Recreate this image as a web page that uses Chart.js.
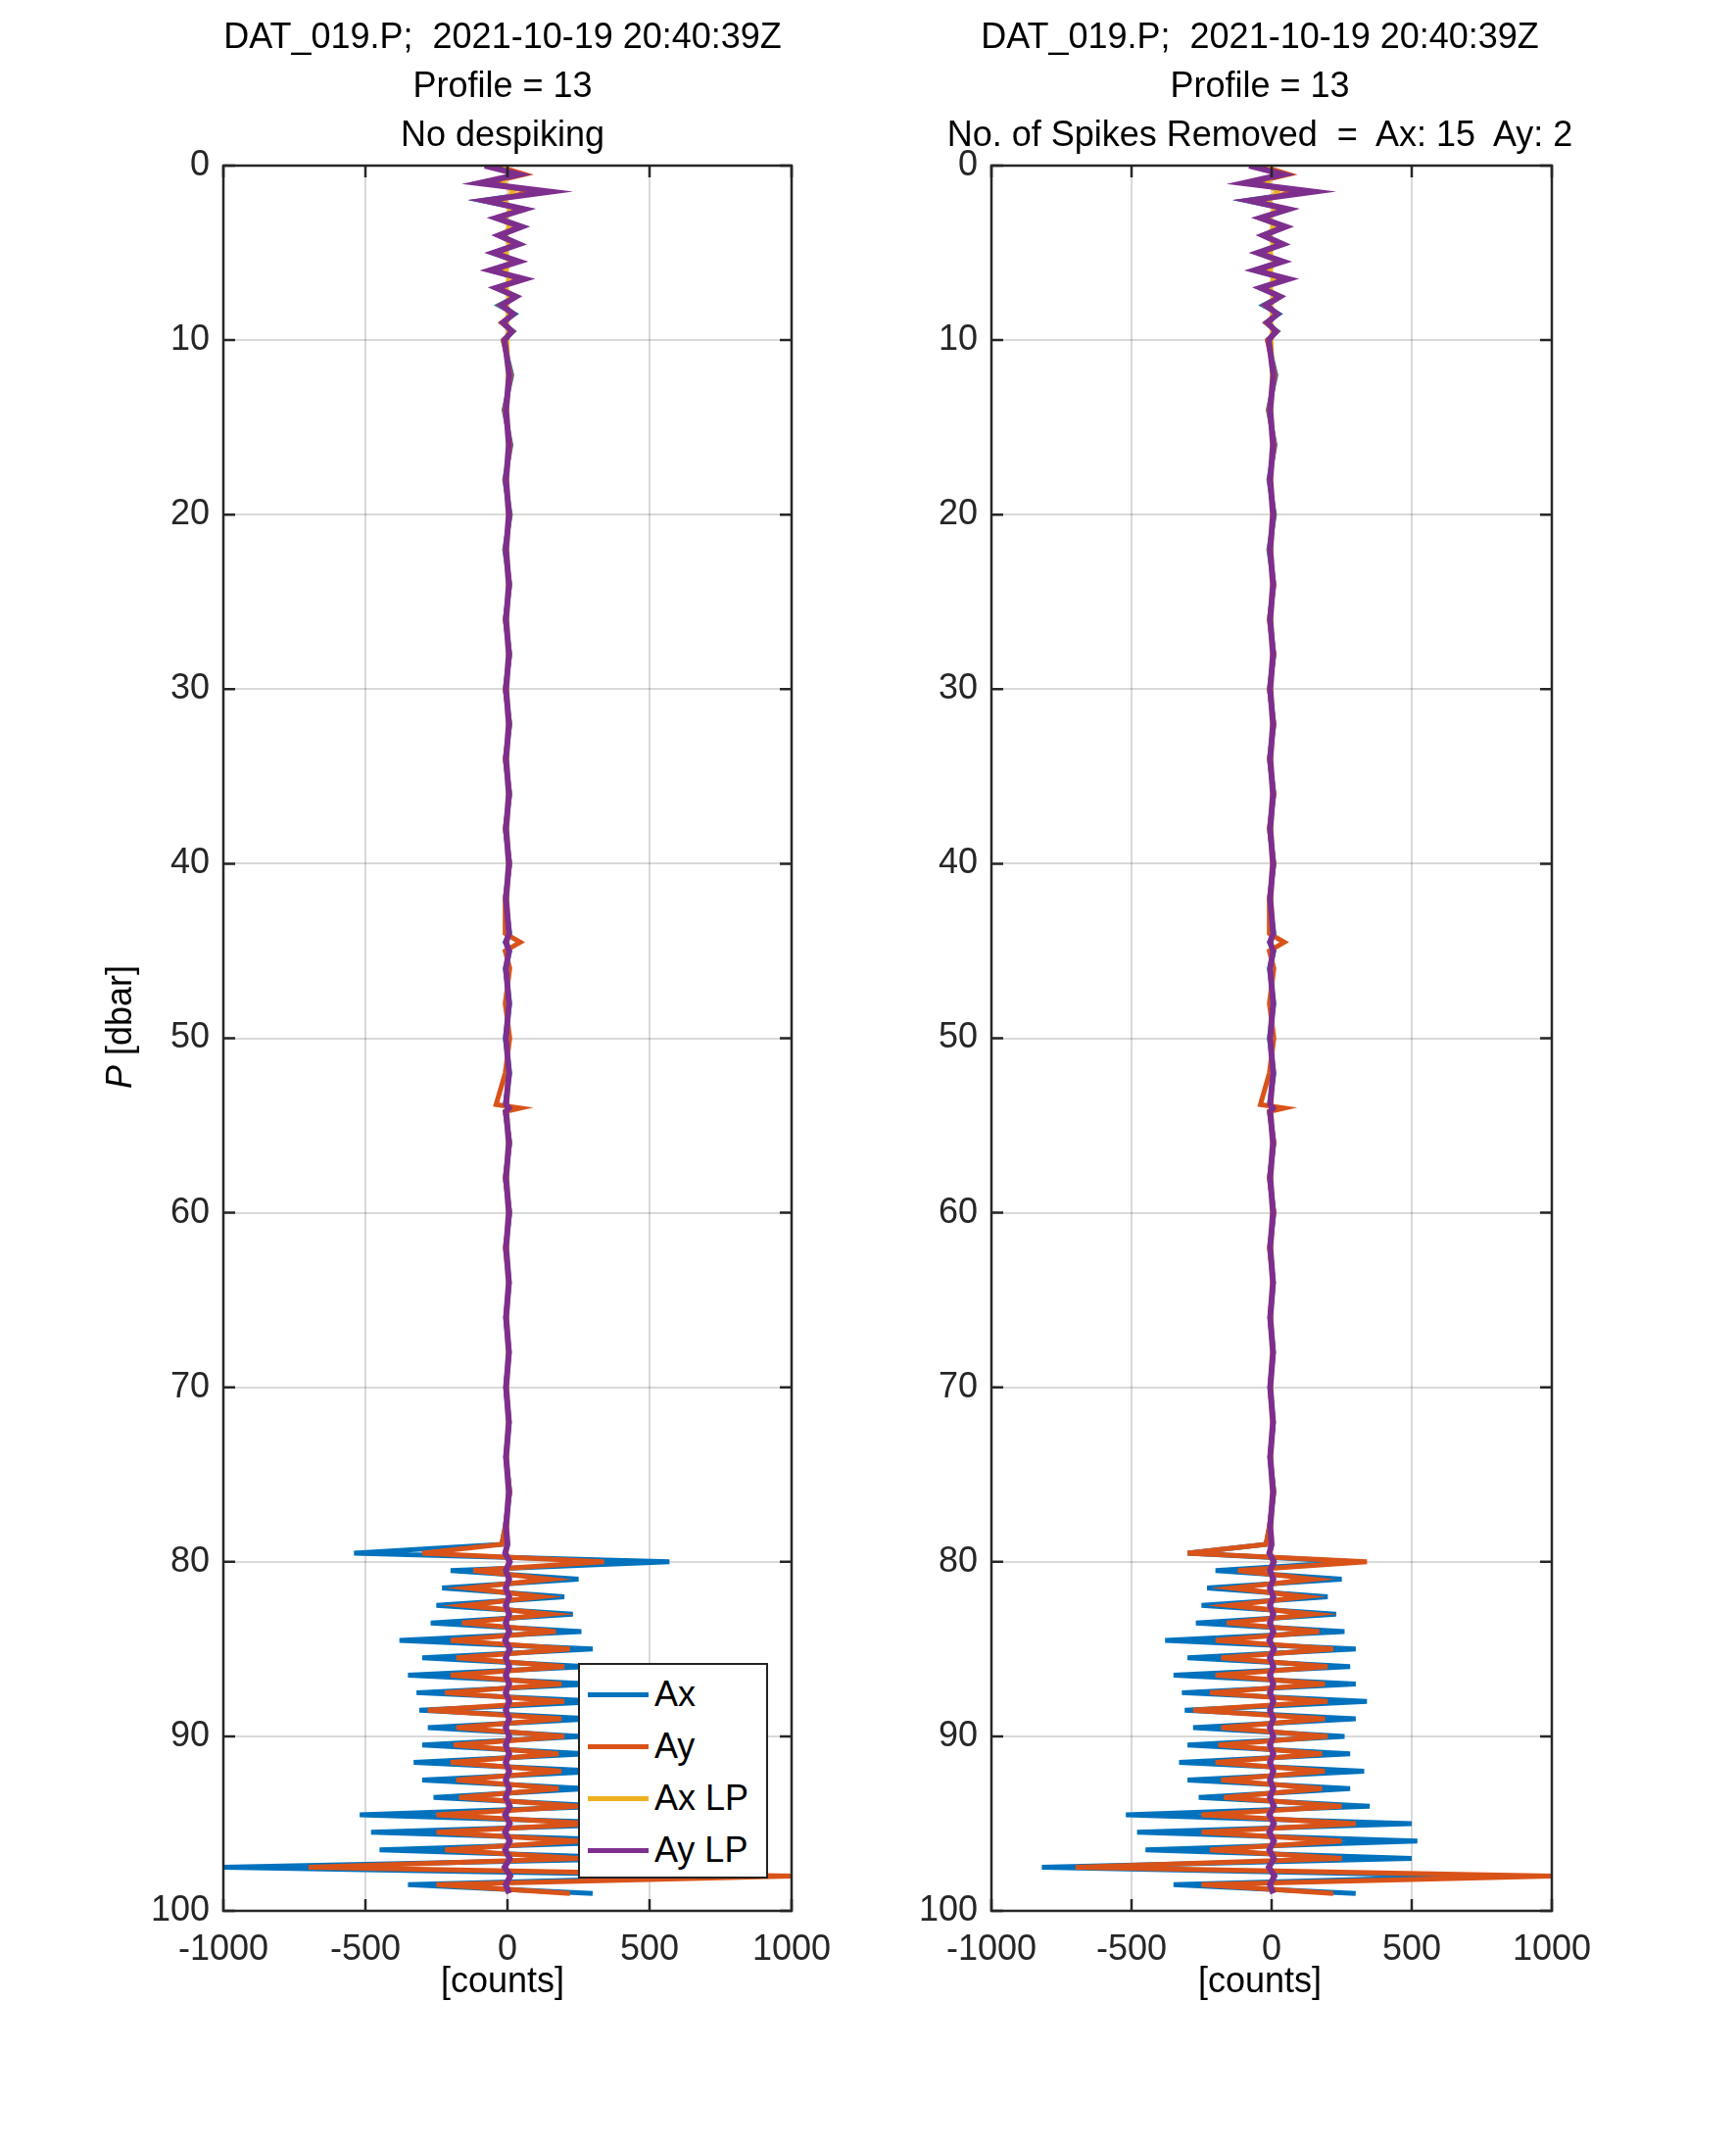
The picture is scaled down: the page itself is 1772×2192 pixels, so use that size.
<!DOCTYPE html>
<html><head><meta charset="utf-8">
<script src="https://cdn.jsdelivr.net/npm/chart.js@4"></script>
<style>
body{margin:0;background:#fff;font-family:"Liberation Sans",Arial,sans-serif;}
#wrap{position:relative;width:1772px;height:2192px;}
canvas{position:absolute;top:0;}
.t{position:absolute;font-size:36px;color:#000;text-align:center;white-space:pre;transform:translateX(-50%);line-height:50px;}
#leg{position:absolute;left:590px;top:1697px;width:190px;height:216px;border:2px solid #222;background:#fff;font-size:36px;}
#leg div{height:52px;line-height:52px;margin-top:1px;display:flex;align-items:center;}
#leg span{display:inline-block;width:62px;height:5px;margin:0 6px 0 8px;}
</style></head><body>
<div id="wrap">
<canvas id="c1" width="886" height="2192" style="left:0;width:886px;height:2192px"></canvas>
<canvas id="c2" width="886" height="2192" style="left:886px;width:886px;height:2192px"></canvas>
<div class="t" style="left:513px;top:12px">DAT_019.P;  2021-10-19 20:40:39Z<br>Profile = 13<br>No despiking</div>
<div class="t" style="left:1286px;top:12px">DAT_019.P;  2021-10-19 20:40:39Z<br>Profile = 13<br>No. of Spikes Removed  =  Ax: 15  Ay: 2</div>
<div class="t" style="left:513px;top:1996px">[counts]</div>
<div class="t" style="left:1286px;top:1996px">[counts]</div>
<div class="t" style="left:122px;top:1023px;transform:translateX(-50%) rotate(-90deg)"><i>P</i> [dbar]</div>
<div id="leg">
<div style="margin-top:4px"><span style="background:#0072BD"></span>Ax</div>
<div><span style="background:#D95319"></span>Ay</div>
<div><span style="background:#EDB120"></span>Ax LP</div>
<div><span style="background:#7E2F8E"></span>Ay LP</div>
</div>
</div>
<script>
const P=[0,0.5,1,1.5,2,2.5,3,3.5,4,4.5,5,5.5,6,6.5,7,7.5,8,8.5,9,9.5,10,
12,14,16,18,20,22,24,26,28,30,32,34,36,38,40,42,44,44.5,45,46,48,50,52,53.8,54,54.2,56,58,60,62,64,66,68,70,72,74,76,78,
79,79.5,80,80.5,81,81.5,82,82.5,83,83.5,84,84.5,85,85.5,86,86.5,87,87.5,88,88.5,89,89.5,90,90.5,91,91.5,92,92.5,93,93.5,94,94.5,95,95.5,96,96.5,97,97.5,98,98.5,99];
const Ax=[-60,40,-80,120,-90,60,-40,50,-30,40,-50,30,-60,50,-40,30,-30,25,-20,20,-15,
15,-12,12,-10,10,-10,8,-8,8,-8,8,-8,8,-8,8,-8,8,-8,8,-8,8,-8,8,-8,8,-8,8,-8,8,-6,6,-6,6,-6,6,-6,8,-8,
-20,-540,570,-200,250,-230,200,-250,230,-270,260,-380,300,-300,280,-350,300,-320,340,-310,300,-280,260,-300,280,-330,330,-300,280,-260,350,-520,500,-480,520,-450,500,-1000,780,-350,300];
const Ay=[-40,60,-70,90,-60,50,-40,40,-30,30,-40,30,-40,40,-30,30,-25,20,-20,18,-15,
12,-10,10,-8,8,-8,8,-8,8,-8,8,-8,8,-8,8,-8,-8,45,-8,8,-8,8,-8,-40,45,-8,8,-8,8,-8,6,-6,6,-6,6,-6,8,-8,
-20,-300,340,-120,150,-140,120,-150,150,-160,170,-200,220,-180,200,-200,190,-220,200,-280,190,-180,200,-190,180,-200,190,-180,180,-170,250,-250,300,-250,250,-220,250,-700,1000,-250,220];
const AxLP=[-10,5,-15,20,-10,10,-5,5,-5,5,-5,5,-5,5,-5,5,-3,3,-3,3,-2,
2,-2,2,-2,2,-2,2,-2,2,-2,2,-2,2,-2,2,-2,2,-2,2,-2,2,-2,2,-2,2,-2,2,-2,2,-2,2,-2,2,-2,2,-2,2,-2,
0,-5,5,-4,4,-4,4,-4,4,-4,4,-5,5,-4,4,-4,4,-4,4,-4,4,-4,4,-4,4,-4,4,-4,4,-4,4,-5,5,-5,5,-5,5,-8,8,-4,4];
const AyLP=[-80,40,-100,150,-80,60,-40,50,-30,40,-50,40,-60,60,-40,30,-20,20,-15,15,-10,
6,-5,5,-5,5,-5,5,-5,5,-5,5,-5,5,-5,5,-5,5,-5,5,-5,5,-5,5,-5,5,-5,5,-5,5,-5,5,-5,5,-5,5,-5,5,-5,
0,-8,8,-6,6,-6,6,-6,6,-6,6,-8,8,-6,6,-6,6,-6,6,-6,6,-6,6,-6,6,-6,6,-6,6,-6,8,-8,8,-8,8,-8,8,-10,10,-6,6];
const AxR=[-60,40,-80,120,-90,60,-40,50,-30,40,-50,30,-60,50,-40,30,-30,25,-20,20,-15,
15,-12,12,-10,10,-10,8,-8,8,-8,8,-8,8,-8,8,-8,8,-8,8,-8,8,-8,8,-8,8,-8,8,-8,8,-6,6,-6,6,-6,6,-6,8,-8,
-20,-300,300,-200,250,-230,200,-250,230,-270,260,-380,300,-300,280,-350,300,-320,340,-310,300,-280,260,-300,280,-330,330,-300,280,-260,350,-520,500,-480,520,-450,500,-820,750,-350,300];
const AyR=Ay;
const xTicks=[-1000,-500,0,500,1000];
const yTicks=[0,10,20,30,40,50,60,70,80,90,100];

const font={family:"Liberation Sans",size:36};
function pts(v){return P.map((p,i)=>({x:v[i],y:p}));}
const boxPlugin={id:'box',afterDraw(c){const a=c.chartArea,g=c.ctx;g.save();g.strokeStyle='#262626';g.lineWidth=2.5;
 g.strokeRect(a.left,a.top,a.right-a.left,a.bottom-a.top);
 const xs=c.scales.x,ys=c.scales.y,L=12;g.beginPath();
 xTicks.forEach(t=>{const px=xs.getPixelForValue(t);g.moveTo(px,a.bottom);g.lineTo(px,a.bottom-L);g.moveTo(px,a.top);g.lineTo(px,a.top+L);});
 yTicks.forEach(t=>{const py=ys.getPixelForValue(t);g.moveTo(a.left,py);g.lineTo(a.left+L,py);g.moveTo(a.right,py);g.lineTo(a.right-L,py);});
 g.stroke();g.restore();}};
function make(id,ax,ay,padL,padR){
 const ds=(d,col,o,w)=>({data:pts(d),borderColor:col,borderWidth:w,showLine:true,pointRadius:0,order:o,tension:0});
 new Chart(document.getElementById(id),{type:'scatter',
  data:{datasets:[ds(ax,'#0072BD',4,5),ds(ay,'#D95319',3,5),ds(AxLP,'#EDB120',2,5),ds(AyLP,'#7E2F8E',1,6)]},
  options:{responsive:false,animation:false,clip:true,
   layout:{padding:{top:169,right:padR,left:0,bottom:0}},
   plugins:{legend:{display:false},tooltip:{enabled:false}},
   scales:{
    x:{type:'linear',min:-1000,max:1000,afterBuildTicks(s){s.ticks=xTicks.map(v=>({value:v}));},
       afterFit(s){s.height=242;},border:{display:false},
       grid:{color:'rgba(0,0,0,0.15)',lineWidth:2,drawTicks:false},
       ticks:{font,color:'#262626',padding:18,maxRotation:0,callback:v=>String(v)}},
    y:{type:'linear',reverse:true,min:0,max:100,afterBuildTicks(s){s.ticks=yTicks.map(v=>({value:v}));},
       afterFit(s){s.width=padL;},border:{display:false},
       grid:{color:'rgba(0,0,0,0.15)',lineWidth:2,drawTicks:false},
       ticks:{font,color:'#262626',padding:14,callback:v=>String(v)}}}},
  plugins:[boxPlugin]});
}
make('c1',Ax,Ay,228,87-9);
make('c2',AxR,AyR,115+11,201-13);
</script></body></html>
